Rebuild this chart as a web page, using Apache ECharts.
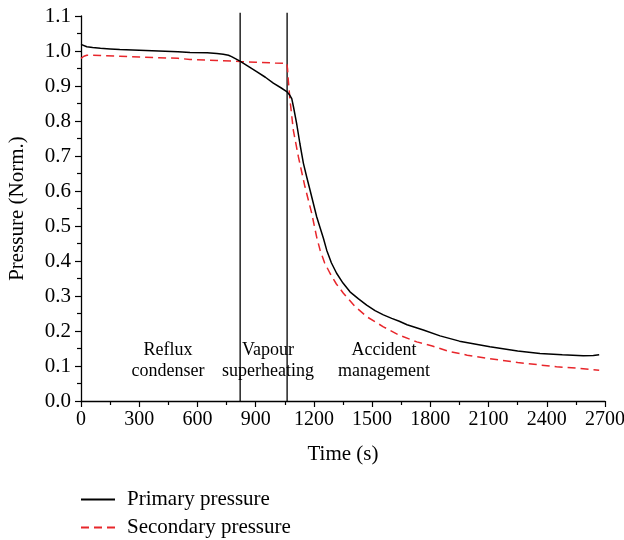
<!DOCTYPE html>
<html>
<head>
<meta charset="utf-8">
<script src="https://cdn.jsdelivr.net/npm/echarts@6/dist/echarts.min.js"></script>
<style>html,body{margin:0;padding:0;background:#fff}#c{width:624px;height:540px}</style>
</head>
<body>
<div id="c"></div>
<script>
const primaryT = [0,10,30,60,100,150,200,300,400,500,562,650,700,733,760,776,800,819,860,905,950,991,1030,1060,1073,1086,1095,1111,1128,1146,1163,1180,1197,1214,1232,1249,1266,1290,1317,1350,1386,1430,1472,1515,1558,1601,1640,1680,1764,1850,1950,2107,2250,2365,2480,2588,2640,2670];
const primaryP = [1.019,1.015,1.012,1.010,1.008,1.006,1.004,1.002,1.000,0.998,0.996,0.995,0.993,0.991,0.988,0.984,0.977,0.971,0.957,0.941,0.925,0.908,0.895,0.884,0.876,0.864,0.840,0.793,0.735,0.679,0.640,0.603,0.565,0.527,0.495,0.465,0.431,0.395,0.365,0.337,0.312,0.292,0.274,0.258,0.246,0.236,0.228,0.218,0.203,0.186,0.171,0.155,0.143,0.136,0.132,0.129,0.130,0.132];
const secondaryT = [0,15,30,100,200,300,400,500,562,700,819,900,1000,1060,1064,1068,1077,1094,1120,1154,1189,1214,1232,1255,1283,1315,1352,1410,1472,1558,1640,1730,1810,1850,1901,1990,2107,2250,2365,2450,2550,2670];
const secondaryP = [0.979,0.985,0.988,0.987,0.985,0.983,0.981,0.979,0.976,0.973,0.970,0.968,0.966,0.965,0.950,0.917,0.860,0.774,0.698,0.612,0.536,0.469,0.431,0.395,0.365,0.335,0.308,0.271,0.241,0.212,0.188,0.169,0.157,0.150,0.141,0.131,0.121,0.110,0.103,0.098,0.094,0.088];
const phaseBoundaries = [820, 1062];
const phaseLabels = ['Reflux\ncondenser', 'Vapour\nsuperheating', 'Accident\nmanagement'];
const phaseLabelX = [448, 963, 1561];
const phaseLabelY = [0.114, 0.114, 0.114];
const seriesNames = ['Primary pressure', 'Secondary pressure'];
const xTicks = {min: 0, max: 2700, interval: 300};
const yTicks = {min: 0, max: 1.1, interval: 0.1};

const FONT = '"Liberation Serif", "DejaVu Serif", serif';
const zip = (a, b) => a.map((v, i) => [v, b[i]]);

const series = [
  {name: seriesNames[0], type: 'line', data: zip(primaryT, primaryP), symbol: 'none',
   lineStyle: {color: '#000', width: 1.5}, itemStyle: {color: '#000'}, z: 4},
  {name: seriesNames[1], type: 'line', data: zip(secondaryT, secondaryP), symbol: 'none',
   lineStyle: {color: '#e8262b', width: 1.5, type: [8, 5]}, itemStyle: {color: '#e8262b'}, z: 3}
];
phaseBoundaries.forEach(t => {
  series.push({type: 'line', data: [[t, 0], [t, 1.109]], symbol: 'none', clip: false, silent: true,
    lineStyle: {color: '#000', width: 1.3}, z: 2});
});
series.push({type: 'scatter', symbolSize: 0, silent: true,
  data: phaseLabels.map((s, i) => ({value: [phaseLabelX[i], phaseLabelY[i]], name: s})),
  label: {show: true, position: 'inside', formatter: p => p.name, color: '#000',
    textBorderWidth: 0, opacity: 1,
    fontFamily: FONT, fontSize: 18, lineHeight: 21}, z: 5});

const legendBase = {orient: 'vertical', left: 75, itemWidth: 34, itemHeight: 14,
  itemStyle: {color: 'rgba(0,0,0,0)', borderWidth: 0, opacity: 0},
  textStyle: {fontFamily: FONT, fontSize: 21, color: '#000', padding: [0, 0, 0, 7]}};

const chart = echarts.init(document.getElementById('c'), null, {renderer: 'canvas'});
chart.setOption({
  animation: false,
  grid: {left: 81, right: 19, top: 16, bottom: 139, containLabel: false, outerBoundsMode: 'none'},
  xAxis: {type: 'value', min: xTicks.min, max: xTicks.max, interval: xTicks.interval,
    name: 'Time (s)', nameLocation: 'middle', nameGap: 43,
    nameTextStyle: {fontFamily: FONT, fontSize: 21, color: '#000'},
    axisLine: {show: true, lineStyle: {color: '#000', width: 1.3}},
    axisTick: {show: true, inside: false, length: 6, lineStyle: {color: '#000', width: 1.2}},
    minorTick: {show: true, splitNumber: 2, length: 4, lineStyle: {color: '#000', width: 1.2}},
    splitLine: {show: false},
    axisLabel: {fontFamily: FONT, fontSize: 20, color: '#000', margin: 9, formatter: v => String(v)}},
  yAxis: {type: 'value', min: yTicks.min, max: yTicks.max, interval: yTicks.interval,
    name: 'Pressure (Norm.)', nameLocation: 'middle', nameGap: 53,
    nameTextStyle: {fontFamily: FONT, fontSize: 21, color: '#000'},
    axisLine: {show: true, lineStyle: {color: '#000', width: 1.3}},
    axisTick: {show: true, inside: false, length: 6, lineStyle: {color: '#000', width: 1.2}},
    minorTick: {show: true, splitNumber: 2, length: 4, lineStyle: {color: '#000', width: 1.2}},
    splitLine: {show: false},
    axisLabel: {fontFamily: FONT, fontSize: 21, color: '#000', margin: 10,
      formatter: v => v.toFixed(1)}},
  legend: [
    Object.assign({}, legendBase, {data: [seriesNames[0]], top: 484}),
    Object.assign({}, legendBase, {data: [seriesNames[1]], top: 512})
  ],
  series: series
});
</script>
</body>
</html>
